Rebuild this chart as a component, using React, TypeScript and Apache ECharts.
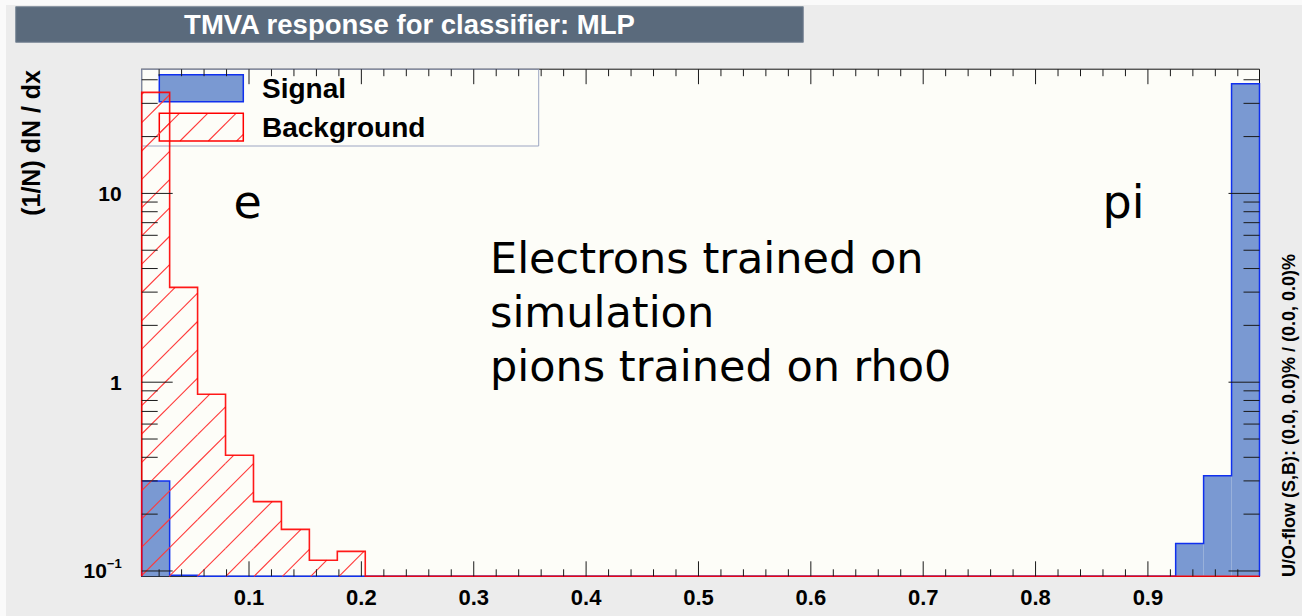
import React, { useEffect, useRef } from 'react';
import * as echarts from 'echarts';

// ---- histogram definition ----
const X_MIN = 0.0045;
const X_MAX = 0.9993;
const N_BINS = 40;
const Y_MIN = 0.0937;
const Y_MAX = 45.5;

// ---- data (1/N dN/dx per bin) ----
const SIGNAL = [
  0.30, 0.095, 0, 0, 0, 0, 0, 0, 0, 0,
  0, 0, 0, 0, 0, 0, 0, 0, 0, 0,
  0, 0, 0, 0, 0, 0, 0, 0, 0, 0,
  0, 0, 0, 0, 0, 0, 0, 0.140, 0.319, 38.1,
];
const BACKGROUND = [
  34.3, 3.18, 0.864, 0.410, 0.233, 0.166, 0.114, 0.127, 0, 0,
  0, 0, 0, 0, 0, 0, 0, 0, 0, 0,
  0, 0, 0, 0, 0, 0, 0, 0, 0, 0,
  0, 0, 0, 0, 0, 0, 0, 0, 0, 0,
];

// ---- ticks / labels ----
const X_LABELS = [0.1, 0.2, 0.3, 0.4, 0.5, 0.6, 0.7, 0.8, 0.9];
const X_MINOR: number[] = [];
for (let k = 1; k < 50; k++) if (k % 5 !== 0) X_MINOR.push(k / 50);
const Y_MAJOR = [0.1, 1, 10];
const Y_MINOR = [0.2, 0.3, 0.4, 0.5, 0.6, 0.7, 0.8, 0.9, 2, 3, 4, 5, 6, 7, 8, 9, 20, 30, 40];

const TITLE = 'TMVA response for classifier: MLP';
const Y_TITLE = '(1/N) dN / dx';
const OVERFLOW_TEXT = 'U/O-flow (S,B): (0.0, 0.0)% / (0.0, 0.0)%';
const NOTE_LINES = ['Electrons trained on', 'simulation', 'pions trained on rho0'];

const HELV = '"Liberation Sans", Arial, Helvetica, sans-serif';
const NOTE_FONT = '"DejaVu Sans", Verdana, sans-serif';

const SIG_FILL = '#7a99d2';
const SIG_LINE = '#1030ee';
const BKG_LINE = '#ff0000';
const HATCH = '#ff3a3a';

const edge = (i: number) => X_MIN + (i * (X_MAX - X_MIN)) / N_BINS;

const HATCH_STEP = 28.3;
const HATCH_PHASE = 321;

// diagonal "/" hatch segments clipped to a pixel rectangle
function hatchSegments(x0: number, x1: number, y0: number, y1: number) {
  const out: number[][] = [];
  const cMin = x0 + y0;
  const cMax = x1 + y1;
  for (let k = Math.ceil((cMin - HATCH_PHASE) / HATCH_STEP); HATCH_PHASE + k * HATCH_STEP <= cMax; k++) {
    const c = HATCH_PHASE + k * HATCH_STEP;
    const xa = Math.max(x0, c - y1);
    const xb = Math.min(x1, c - y0);
    if (xb > xa) out.push([xa, c - xa, xb, c - xb]);
  }
  return out;
}

const f2 = (n: number) => n.toFixed(2);
const segPath = (segs: number[][]) =>
  segs.map((s) => `M${f2(s[0])} ${f2(s[1])}L${f2(s[2])} ${f2(s[3])}`).join('');

// one item per bin in the data; the whole histogram is drawn from the first item
function histSeries(name: string, values: number[], kind: 'signal' | 'background', z: number) {
  return {
    type: 'custom',
    name,
    coordinateSystem: 'cartesian2d',
    silent: true,
    clip: false,
    z,
    encode: { x: [0, 1], y: 2 },
    data: values.map((v, i) => [edge(i), edge(i + 1), v]),
    renderItem: (params: any, api: any) => {
      if (params.dataIndex !== 0) return null;
      const yB = api.coord([X_MIN, Y_MIN])[1];
      const px = (x: number) => api.coord([x, Y_MIN])[0];
      const level = (val: number) => (val > Y_MIN ? api.coord([X_MIN, val])[1] : yB);
      const pts: number[][] = [[px(edge(0)), yB]];
      const hatch: number[][] = [];
      const fills: any[] = [];
      values.forEach((v, i) => {
        const xl = px(edge(i));
        const xr = px(edge(i + 1));
        const yv = level(v);
        pts.push([xl, yv], [xr, yv]);
        if (v > Y_MIN) {
          if (kind === 'signal') {
            fills.push({
              type: 'rect',
              shape: { x: xl, y: yv, width: xr - xl, height: yB - yv },
              style: { fill: SIG_FILL, stroke: null },
            });
          } else {
            hatch.push(...hatchSegments(xl, xr, yv, yB));
          }
        }
      });
      pts.push([px(edge(values.length)), yB]);
      const children: any[] = [...fills];
      hatch.forEach((s) => {
        children.push({
          type: 'line',
          shape: { x1: s[0], y1: s[1], x2: s[2], y2: s[3] },
          style: { stroke: HATCH, fill: null, lineWidth: 1.1 },
        });
      });
      children.push({
        type: 'polyline',
        shape: { points: pts },
        style: {
          stroke: kind === 'signal' ? SIG_LINE : BKG_LINE,
          fill: null,
          lineWidth: kind === 'signal' ? 1.5 : 1.6,
          opacity: kind === 'signal' ? 1 : 0.9,
        },
      });
      return { type: 'group', children };
    },
  };
}

const ticksSeries = {
  type: 'custom',
  name: 'ticks',
  coordinateSystem: 'cartesian2d',
  silent: true,
  clip: false,
  z: 5,
  encode: { x: 0, y: 1 },
  data: [[X_MIN, Y_MIN]],
  renderItem: (_params: any, api: any) => {
    const segs: number[][] = [];
    const [xL, yB] = api.coord([X_MIN, Y_MIN]);
    const [xR, yT] = api.coord([X_MAX, Y_MAX]);
    const xt = (v: number, len: number) => {
      const p = api.coord([v, Y_MIN])[0];
      segs.push([p, yB, p, yB - len], [p, yT, p, yT + len]);
    };
    const yt = (v: number, len: number) => {
      const p = api.coord([X_MIN, v])[1];
      segs.push([xL, p, xL + len, p], [xR, p, xR - len, p]);
    };
    X_LABELS.forEach((v) => xt(v, 15));
    X_MINOR.forEach((v) => xt(v, 7));
    Y_MAJOR.forEach((v) => yt(v, 31));
    Y_MINOR.forEach((v) => yt(v, 16));
    return {
      type: 'path',
      shape: { pathData: segPath(segs) },
      style: { stroke: '#1a1a1a', fill: null, lineWidth: 1 },
    };
  },
};

const isPow10 = (v: number) => {
  const l = Math.log10(v);
  return Math.abs(l - Math.round(l)) < 1e-6;
};

export default function App() {
  const ref = useRef<HTMLDivElement>(null);
  useEffect(() => {
    if (!ref.current) return;
    const chart = echarts.init(ref.current, undefined, { renderer: 'svg' });
    const legendZ = 1;
    const legendHatch = hatchSegments(159.3, 243.3, 113.3, 141).map((s) => ({
      type: 'line',
      z: legendZ,
      shape: { x1: s[0], y1: s[1], x2: s[2], y2: s[3] },
      style: { stroke: HATCH, lineWidth: 1.1 },
    }));
    const option: any = {
      animation: false,
      backgroundColor: '#ececec',
      grid: {
        left: 141.7,
        right: 42.5,
        top: 69.2,
        bottom: 39.7,
        show: true,
        backgroundColor: '#fdfdf8',
        borderColor: '#111',
        borderWidth: 1,
      },
      xAxis: {
        type: 'value',
        min: X_MIN,
        max: X_MAX,
        axisLine: { show: true, onZero: false, lineStyle: { color: '#111', width: 1 } },
        axisTick: { show: false },
        splitLine: { show: false },
        axisLabel: {
          customValues: X_LABELS,
          formatter: (v: number) => {
            const r = Math.round(v * 10);
            if (Math.abs(v * 10 - r) > 1e-6 || r < 1 || r > 9) return '';
            return (r / 10).toFixed(1);
          },
          fontSize: 22,
          fontWeight: 'bold',
          fontFamily: HELV,
          color: '#000',
          margin: 10,
          showMinLabel: true,
          showMaxLabel: true,
        },
      },
      yAxis: {
        type: 'log',
        logBase: 10,
        min: Y_MIN,
        max: Y_MAX,
        axisLine: { show: true, onZero: false, lineStyle: { color: '#111', width: 1 } },
        axisTick: { show: false },
        splitLine: { show: false },
        axisLabel: {
          formatter: (v: number) => {
            if (!isPow10(v)) return '';
            const e = Math.round(Math.log10(v));
            if (e === 0) return '1';
            if (e === 1) return '10';
            if (e === -1) return '{b|10}{s|\u22121}';
            return '';
          },
          fontSize: 21,
          fontWeight: 'bold',
          fontFamily: HELV,
          color: '#000',
          margin: 20,
          rich: {
            b: { fontSize: 21, fontWeight: 'bold', fontFamily: HELV, color: '#000' },
            s: { fontSize: 13, fontWeight: 'bold', fontFamily: HELV, color: '#000', padding: [0, 0, 14, 0] },
          },
        },
      },
      series: [
        histSeries('Signal', SIGNAL, 'signal', 2),
        histSeries('Background', BACKGROUND, 'background', 3),
        ticksSeries,
      ],
      graphic: [
        { type: 'rect', z: 1, shape: { x: 0, y: 0, width: 1302, height: 5 }, style: { fill: '#fafafa' } },
        { type: 'rect', z: 1, shape: { x: 0, y: 0, width: 6, height: 616 }, style: { fill: '#fafafa' } },
        // title bar
        {
          type: 'rect',
          z: 1,
          shape: { x: 15.7, y: 6.7, width: 787.6, height: 35.6 },
          style: { fill: '#5a6a7c', stroke: '#7d8a99', lineWidth: 1 },
        },
        {
          type: 'text',
          z: 2,
          x: 409.5,
          y: 24.5,
          style: {
            text: TITLE,
            font: `bold 27.5px ${HELV}`,
            fill: '#ffffff',
            align: 'center',
            verticalAlign: 'middle',
          },
        },
        // y title
        {
          type: 'text',
          z: 2,
          x: 31,
          y: 70,
          rotation: Math.PI / 2,
          style: {
            text: Y_TITLE,
            font: `bold 25px ${HELV}`,
            fill: '#000',
            align: 'right',
            verticalAlign: 'middle',
          },
        },
        // right overflow text
        {
          type: 'text',
          z: 2,
          x: 1289,
          y: 577,
          rotation: Math.PI / 2,
          style: {
            text: OVERFLOW_TEXT,
            font: `bold 18px ${HELV}`,
            fill: '#000',
            align: 'left',
            verticalAlign: 'middle',
          },
        },
        // legend
        {
          type: 'rect',
          z: legendZ,
          shape: { x: 141.7, y: 69.2, width: 397, height: 76.8 },
          style: { fill: 'none', stroke: '#9ca5c2', lineWidth: 1 },
        },
        {
          type: 'rect',
          z: legendZ,
          shape: { x: 159.3, y: 74.7, width: 84, height: 27 },
          style: { fill: SIG_FILL, stroke: SIG_LINE, lineWidth: 1.5 },
        },
        ...legendHatch,
        {
          type: 'rect',
          z: legendZ,
          shape: { x: 159.3, y: 113.3, width: 84, height: 27.7 },
          style: { fill: 'none', stroke: BKG_LINE, lineWidth: 1.5 },
        },
        {
          type: 'text',
          z: legendZ,
          x: 262,
          y: 88,
          style: { text: 'Signal', font: `bold 28px ${HELV}`, fill: '#000', verticalAlign: 'middle' },
        },
        {
          type: 'text',
          z: legendZ,
          x: 262,
          y: 127,
          style: { text: 'Background', font: `bold 28px ${HELV}`, fill: '#000', verticalAlign: 'middle' },
        },
        // annotations
        {
          type: 'text',
          z: 10,
          x: 233.5,
          y: 202,
          style: { text: 'e', font: `46px ${NOTE_FONT}`, fill: '#000', verticalAlign: 'middle' },
        },
        {
          type: 'text',
          z: 10,
          x: 1102.5,
          y: 202,
          style: { text: 'pi', font: `46px ${NOTE_FONT}`, fill: '#000', verticalAlign: 'middle' },
        },
        ...NOTE_LINES.map((t, i) => ({
          type: 'text',
          z: 10,
          x: 490,
          y: 258 + i * 54,
          style: { text: t, font: `43px ${NOTE_FONT}`, fill: '#000', verticalAlign: 'middle' },
        })),
      ],
    };
    chart.setOption(option);
    return () => chart.dispose();
  }, []);
  return (
    <div
      ref={ref}
      style={{ position: 'fixed', left: 0, top: 0, width: 1302, height: 616, background: '#ececec' }}
    />
  );
}
